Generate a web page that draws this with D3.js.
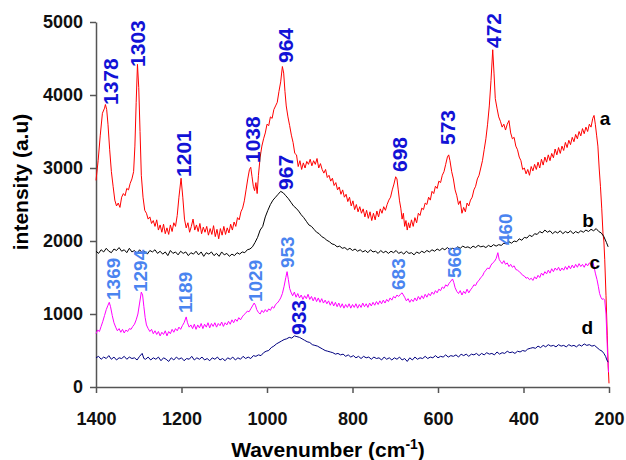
<!DOCTYPE html>
<html>
<head>
  <meta charset="utf-8">
  <title>Raman spectra</title>
  <style>
   html, body { margin: 0; padding: 0; background: #fff; }
   text { font-family: "Liberation Sans", Arial, sans-serif; font-weight: bold; }
   .axis path, .axis line { stroke: #555; stroke-width: 1.5px; }
   .axis text { font-size: 18px; fill: #111; }
   .spec { fill: none; stroke-width: 1px; stroke-linejoin: round; }
 </style>
</head>
<body>
  <div id="chart"></div>
  <script src="https://d3js.org/d3.v7.min.js"></script>
  <script>
// spectra: [wavenumber, intensity]
var specA = [[1400,2830],[1395,3100],[1390,3450],[1385,3750],[1380,3820],[1378,3870],[1375,3800],[1372,3600],[1368,3250],[1364,2950],[1360,2750],[1356,2560],[1352,2480],[1348,2520],[1344,2460],[1340,2600],[1336,2650],[1332,2620],[1328,2720],[1324,2700],[1320,2790],[1316,2850],[1312,2950],[1309,3300],[1306,3900],[1303,4420],[1300,4100],[1297,3500],[1294,2900],[1290,2600],[1286,2420],[1282,2380],[1278,2300],[1274,2330],[1270,2240],[1266,2280],[1262,2200],[1258,2290],[1254,2150],[1250,2220],[1246,2120],[1242,2230],[1238,2100],[1234,2180],[1230,2090],[1226,2220],[1222,2130],[1218,2250],[1214,2200],[1210,2350],[1206,2600],[1201,2860],[1197,2600],[1193,2300],[1189,2180],[1185,2250],[1181,2120],[1177,2200],[1173,2300],[1169,2150],[1165,2220],[1161,2130],[1157,2240],[1153,2100],[1149,2190],[1145,2120],[1141,2200],[1137,2080],[1133,2170],[1129,2090],[1125,2210],[1121,2060],[1117,2160],[1113,2030],[1109,2170],[1105,2080],[1101,2200],[1097,2090],[1093,2180],[1089,2110],[1085,2230],[1081,2150],[1077,2260],[1073,2200],[1069,2320],[1065,2290],[1061,2400],[1057,2450],[1053,2550],[1049,2700],[1045,2850],[1041,2980],[1038,3010],[1035,2880],[1032,2750],[1029,2690],[1026,2800],[1023,2650],[1020,2900],[1016,3150],[1012,3300],[1008,3400],[1004,3480],[1000,3600],[996,3580],[992,3700],[988,3680],[984,3800],[980,3850],[976,3900],[972,4050],[968,4180],[964,4390],[961,4300],[958,4050],[955,3850],[951,3700],[947,3580],[943,3450],[939,3350],[935,3200],[931,3180],[927,3020],[923,3100],[919,2980],[915,3070],[911,3000],[907,3090],[903,3050],[899,3120],[895,3030],[891,3100],[887,3050],[883,3130],[879,3000],[875,3060],[871,2980],[867,2930],[863,2980],[859,2870],[855,2900],[851,2820],[847,2860],[843,2760],[839,2800],[835,2700],[831,2740],[827,2640],[823,2700],[819,2600],[815,2640],[811,2540],[807,2600],[803,2480],[799,2550],[795,2430],[791,2500],[787,2400],[783,2470],[779,2380],[775,2440],[771,2330],[767,2420],[763,2310],[759,2400],[755,2280],[751,2380],[747,2290],[743,2410],[739,2330],[735,2440],[731,2380],[727,2470],[723,2420],[719,2500],[715,2560],[711,2600],[707,2700],[703,2780],[699,2880],[696,2850],[693,2700],[690,2550],[687,2450],[684,2300],[681,2380],[678,2200],[675,2280],[672,2150],[669,2250],[666,2180],[662,2290],[658,2200],[654,2320],[650,2250],[646,2380],[642,2350],[638,2450],[634,2430],[630,2520],[626,2500],[622,2600],[618,2560],[614,2680],[610,2650],[606,2750],[602,2720],[598,2820],[594,2800],[590,2900],[586,2950],[582,3050],[578,3150],[575,3180],[572,3100],[568,2950],[564,2850],[560,2700],[556,2620],[552,2500],[548,2550],[544,2380],[540,2460],[536,2400],[532,2520],[528,2480],[524,2560],[520,2600],[516,2700],[512,2750],[508,2850],[504,2900],[500,3000],[496,3100],[492,3250],[488,3400],[484,3600],[480,3850],[476,4200],[472,4620],[469,4300],[466,3950],[462,3820],[458,3700],[454,3640],[450,3560],[446,3600],[442,3520],[438,3600],[434,3650],[430,3480],[426,3400],[422,3420],[418,3300],[414,3250],[410,3150],[406,3100],[402,2980],[398,3000],[394,2920],[390,2980],[386,2900],[382,3020],[378,2960],[374,3050],[370,2980],[366,3080],[362,3000],[358,3120],[354,3040],[350,3150],[346,3080],[342,3180],[338,3100],[334,3200],[330,3140],[326,3260],[322,3180],[318,3280],[314,3200],[310,3300],[306,3240],[302,3350],[298,3280],[294,3380],[290,3320],[286,3420],[282,3360],[278,3460],[274,3400],[270,3500],[266,3440],[262,3540],[258,3470],[254,3560],[250,3500],[246,3600],[242,3560],[238,3680],[235,3720],[232,3600],[229,3450],[226,3300],[223,3000],[220,2750],[217,2450],[214,2100],[212,2000],[210,1750],[207,1250],[204,700],[202,300],[200,50]];

var specB = [[1400,1860],[1394,1830],[1388,1880],[1382,1850],[1376,1900],[1370,1860],[1364,1840],[1358,1890],[1352,1870],[1346,1910],[1340,1860],[1334,1880],[1328,1840],[1322,1900],[1316,1850],[1310,1870],[1304,1830],[1298,1880],[1292,1840],[1286,1860],[1280,1820],[1274,1870],[1268,1850],[1262,1880],[1256,1830],[1250,1860],[1244,1820],[1238,1850],[1232,1800],[1226,1870],[1220,1830],[1214,1850],[1208,1810],[1202,1860],[1196,1830],[1190,1850],[1184,1800],[1178,1840],[1172,1820],[1166,1860],[1160,1810],[1154,1850],[1148,1790],[1142,1840],[1136,1820],[1130,1850],[1124,1800],[1118,1830],[1112,1790],[1106,1850],[1100,1810],[1094,1830],[1088,1790],[1082,1820],[1076,1800],[1070,1840],[1064,1820],[1058,1850],[1052,1840],[1046,1880],[1040,1890],[1034,1920],[1028,1980],[1022,2050],[1016,2150],[1010,2200],[1004,2330],[998,2420],[992,2500],[986,2560],[980,2600],[974,2640],[968,2680],[962,2660],[956,2620],[950,2580],[944,2530],[938,2480],[932,2450],[926,2410],[920,2360],[914,2320],[908,2270],[902,2220],[896,2200],[890,2160],[884,2120],[878,2100],[872,2060],[866,2040],[860,2010],[854,1990],[848,1960],[842,1950],[836,1920],[830,1930],[824,1900],[818,1910],[812,1880],[806,1900],[800,1870],[794,1890],[788,1860],[782,1880],[776,1850],[770,1870],[764,1840],[758,1880],[752,1850],[746,1860],[740,1830],[734,1870],[728,1840],[722,1860],[716,1830],[710,1860],[704,1840],[698,1870],[692,1830],[686,1850],[680,1820],[674,1860],[668,1830],[662,1840],[656,1810],[650,1850],[644,1830],[638,1860],[632,1840],[626,1870],[620,1850],[614,1880],[608,1860],[602,1890],[596,1870],[590,1900],[584,1880],[578,1910],[572,1880],[566,1900],[560,1890],[554,1920],[548,1900],[542,1930],[536,1910],[530,1920],[524,1900],[518,1930],[512,1910],[506,1940],[500,1920],[494,1930],[488,1910],[482,1940],[476,1920],[470,1950],[464,1930],[458,1950],[452,1940],[446,1970],[440,1960],[434,1990],[428,1970],[422,2000],[416,1990],[410,2030],[404,2010],[398,2050],[392,2040],[386,2080],[380,2060],[374,2100],[368,2090],[362,2130],[356,2110],[350,2150],[344,2120],[338,2140],[332,2100],[326,2130],[320,2110],[314,2140],[308,2100],[302,2130],[296,2110],[290,2140],[284,2100],[278,2130],[272,2110],[266,2140],[260,2120],[254,2150],[248,2130],[242,2160],[236,2140],[230,2170],[224,2130],[218,2110],[212,2060],[206,1980],[202,1920]];

var specC = [[1400,730],[1396,780],[1392,760],[1388,830],[1384,900],[1380,980],[1376,1060],[1372,1120],[1369,1160],[1366,1100],[1362,980],[1358,880],[1354,820],[1350,770],[1346,800],[1342,750],[1338,790],[1334,740],[1330,780],[1326,760],[1322,800],[1318,790],[1314,830],[1310,860],[1306,920],[1302,1000],[1298,1150],[1294,1300],[1291,1260],[1288,1100],[1285,950],[1282,850],[1278,800],[1274,760],[1270,790],[1266,730],[1262,770],[1258,720],[1254,760],[1250,700],[1246,750],[1242,720],[1238,770],[1234,700],[1230,760],[1226,730],[1222,790],[1218,750],[1214,800],[1210,770],[1206,820],[1202,790],[1198,840],[1194,880],[1189,960],[1186,880],[1182,820],[1178,850],[1174,800],[1170,860],[1166,790],[1162,850],[1158,810],[1154,870],[1150,800],[1146,860],[1142,820],[1138,880],[1134,810],[1130,870],[1126,830],[1122,880],[1118,820],[1114,870],[1110,840],[1106,890],[1102,830],[1098,880],[1094,850],[1090,900],[1086,860],[1082,920],[1078,880],[1074,930],[1070,900],[1066,950],[1062,920],[1058,960],[1054,990],[1050,1010],[1046,1040],[1042,1030],[1038,1070],[1034,1110],[1030,1150],[1027,1120],[1024,1060],[1020,1020],[1016,1000],[1012,1050],[1008,1020],[1004,1060],[1000,1030],[996,1070],[992,1050],[988,1100],[984,1080],[980,1130],[976,1150],[972,1180],[968,1220],[964,1280],[960,1380],[956,1500],[953,1580],[950,1470],[947,1350],[944,1300],[940,1250],[936,1300],[932,1230],[928,1280],[924,1220],[920,1260],[916,1200],[912,1250],[908,1210],[904,1270],[900,1200],[896,1240],[892,1180],[888,1230],[884,1170],[880,1220],[876,1160],[872,1210],[868,1150],[864,1190],[860,1140],[856,1180],[852,1120],[848,1170],[844,1110],[840,1160],[836,1100],[832,1150],[828,1090],[824,1140],[820,1080],[816,1130],[812,1090],[808,1140],[804,1080],[800,1130],[796,1090],[792,1140],[788,1080],[784,1130],[780,1090],[776,1150],[772,1100],[768,1140],[764,1090],[760,1150],[756,1110],[752,1160],[748,1120],[744,1170],[740,1130],[736,1180],[732,1140],[728,1190],[724,1150],[720,1200],[716,1170],[712,1220],[708,1190],[704,1240],[700,1220],[696,1260],[692,1240],[688,1270],[684,1290],[681,1260],[678,1230],[674,1180],[670,1210],[666,1160],[662,1200],[658,1170],[654,1220],[650,1180],[646,1240],[642,1200],[638,1250],[634,1210],[630,1270],[626,1230],[622,1280],[618,1250],[614,1300],[610,1270],[606,1320],[602,1290],[598,1340],[594,1320],[590,1370],[586,1350],[582,1400],[578,1380],[574,1420],[570,1450],[566,1480],[563,1430],[560,1360],[556,1310],[552,1280],[548,1320],[544,1260],[540,1310],[536,1280],[532,1340],[528,1290],[524,1330],[520,1360],[516,1400],[512,1390],[508,1440],[504,1460],[500,1500],[496,1520],[492,1570],[488,1600],[484,1630],[480,1620],[476,1670],[472,1700],[468,1720],[464,1760],[460,1840],[457,1750],[454,1720],[450,1690],[446,1730],[442,1680],[438,1700],[434,1650],[430,1680],[426,1640],[422,1660],[418,1610],[414,1600],[410,1580],[406,1560],[402,1530],[398,1520],[394,1490],[390,1500],[386,1470],[382,1490],[378,1460],[374,1510],[370,1480],[366,1530],[362,1500],[358,1560],[354,1530],[350,1580],[346,1550],[342,1600],[338,1560],[334,1620],[330,1580],[326,1630],[322,1600],[318,1640],[314,1590],[310,1630],[306,1600],[302,1650],[298,1610],[294,1660],[290,1620],[286,1670],[282,1630],[278,1680],[274,1640],[270,1690],[266,1650],[262,1680],[258,1640],[254,1690],[250,1660],[246,1700],[242,1680],[238,1710],[235,1650],[232,1560],[228,1470],[225,1380],[222,1280],[219,1230],[216,1200],[213,1210],[210,1190],[207,1000],[205,700],[203,400],[201,200]];

var specD = [[1400,400],[1394,420],[1388,380],[1382,410],[1376,390],[1370,430],[1364,380],[1358,410],[1352,370],[1346,400],[1340,390],[1334,420],[1328,380],[1322,410],[1316,390],[1310,400],[1304,370],[1298,420],[1292,460],[1288,390],[1284,380],[1278,410],[1272,370],[1266,400],[1260,380],[1254,410],[1248,360],[1242,400],[1236,380],[1230,350],[1224,400],[1218,370],[1212,410],[1206,380],[1200,400],[1194,360],[1188,390],[1182,380],[1176,420],[1170,370],[1164,400],[1158,380],[1152,410],[1146,370],[1140,390],[1134,360],[1128,400],[1122,380],[1116,410],[1110,370],[1104,390],[1098,360],[1092,400],[1086,380],[1080,410],[1074,370],[1068,400],[1062,380],[1056,420],[1050,390],[1044,410],[1038,390],[1032,430],[1026,420],[1020,440],[1014,430],[1008,470],[1002,490],[996,500],[990,540],[984,560],[978,590],[972,610],[966,630],[960,650],[954,660],[948,680],[942,670],[936,700],[930,690],[924,680],[918,660],[912,640],[906,620],[900,610],[894,580],[888,570],[882,560],[876,540],[870,520],[864,500],[858,490],[852,480],[846,470],[840,450],[834,460],[828,440],[822,450],[816,420],[810,440],[804,410],[798,430],[792,400],[786,420],[780,390],[774,420],[768,400],[762,410],[756,380],[750,410],[744,390],[738,400],[732,370],[726,410],[720,380],[714,400],[708,370],[702,400],[696,380],[690,410],[684,370],[678,390],[672,350],[666,400],[660,370],[654,410],[648,380],[642,400],[636,390],[630,420],[624,390],[618,410],[612,400],[606,430],[600,400],[594,420],[588,410],[582,440],[576,410],[570,430],[564,420],[558,440],[552,410],[546,450],[540,430],[534,450],[528,420],[522,450],[516,440],[510,460],[504,430],[498,460],[492,440],[486,470],[480,450],[474,460],[468,440],[462,480],[456,450],[450,470],[444,460],[438,490],[432,470],[426,480],[420,460],[414,490],[408,480],[402,500],[396,490],[390,520],[384,530],[378,540],[372,530],[366,560],[360,540],[354,570],[348,550],[342,580],[336,560],[330,570],[324,550],[318,580],[312,560],[306,570],[300,550],[294,580],[288,560],[282,570],[276,550],[270,580],[264,560],[258,590],[252,570],[246,580],[240,560],[234,570],[228,540],[222,510],[216,490],[212,460],[208,420],[205,370],[202,340]];

var seriesColors = ["#ff0000", "#000000", "#ff00ff", "#000080"];

// peak labels: [text, wavenumber, intensity] at the foot of each label
var peaksDark = [["1378",1367,3863],["1303",1302,4384],["1201",1196,2877],["1038",1033,3068],["964",958,4438],["698",691,2945],["573",577,3315],["472",471,4644],["967",958,2699],["933",927,712]];
var peaksLight = [["1369",1360,1192],["1294",1297,1301],["1189",1192,1014],["1029",1028,1164],["953",953,1630],["683",694,1329],["566",563,1493],["460",443,1945]];

// curve letters: [letter, wavenumber, intensity]
var curveNames = [["a",209,3685],["b",249,2288],["c",233,1712],["d",251,822]];

var xTicks = [1400, 1200, 1000, 800, 600, 400, 200];
var yTicks = [0, 1000, 2000, 3000, 4000, 5000];

var width = 626, height = 460;

var svg = d3.select("#chart").append("svg")
  .attr("width", width)
  .attr("height", height);

var x = d3.scaleLinear().domain([1400, 200]).range([96, 609]);
var y = d3.scaleLinear().domain([0, 5000]).range([387, 22]);

// axes
svg.append("g")
  .attr("class", "axis")
  .attr("transform", "translate(0,387)")
  .call(d3.axisBottom(x).tickValues(xTicks).tickFormat(d3.format("d"))
    .tickSize(6).tickPadding(19).tickSizeOuter(0));

svg.append("g")
  .attr("class", "axis")
  .attr("transform", "translate(96,0)")
  .call(d3.axisLeft(y).tickValues(yTicks).tickFormat(d3.format("d"))
    .tickSize(6).tickPadding(7).tickSizeOuter(0));

svg.selectAll(".axis text").attr("font-family", null);

// spectra
var line = d3.line()
  .x(function(d) { return x(d[0]); })
  .y(function(d) { return y(d[1]); });

svg.selectAll(".spec")
  .data([specA, specB, specC, specD])
  .enter()
  .append("path")
  .attr("class", "spec")
  .attr("stroke", function(d, i) { return seriesColors[i]; })
  .attr("d", line);

// peak labels, rotated
function addPeaks(list, color, size) {
  svg.selectAll(null)
    .data(list)
    .enter()
    .append("text")
    .attr("transform", function(d) { return "translate(" + x(d[1]) + "," + y(d[2]) + ") rotate(-90)"; })
    .attr("dy", "0.36em")
    .attr("fill", color)
    .style("font-size", size + "px")
    .text(function(d) { return d[0]; });
}
addPeaks(peaksDark, "#1212d6", 21);
addPeaks(peaksLight, "#4a84f0", 19);

svg.selectAll(null)
  .data(curveNames)
  .enter()
  .append("text")
  .attr("x", function(d) { return x(d[1]); })
  .attr("y", function(d) { return y(d[2]); })
  .attr("dy", "0.35em")
  .attr("text-anchor", "middle")
  .style("font-size", "19px")
  .text(function(d) { return d[0]; });

// axis titles
svg.append("text")
  .attr("transform", "translate(28,182) rotate(-90)")
  .attr("text-anchor", "middle")
  .style("font-size", "21px")
  .text("intensity (a.u)");

var xTitle = svg.append("text")
  .attr("x", 328)
  .attr("y", 457)
  .attr("text-anchor", "middle")
  .style("font-size", "21px");
xTitle.append("tspan").text("Wavenumber (cm");
xTitle.append("tspan").attr("dy", "-8").style("font-size", "14px").text("-1");
xTitle.append("tspan").attr("dy", "8").text(")");
  </script>
</body>
</html>
